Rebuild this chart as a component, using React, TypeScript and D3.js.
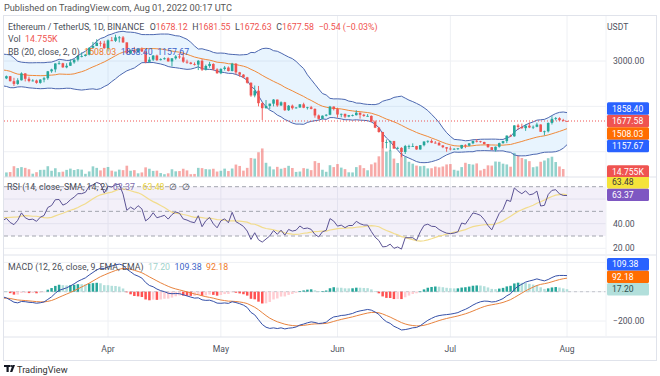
import React from "react";
import * as d3 from "d3";

// ---- data -------------------------------------------------------------
// daily closes before the visible window (Dec 1 2021 – Feb 28 2022), used only to seed the indicators
const historyCloses = [
  4630, 4590, 4210, 4120, 4190, 4360, 4310, 4430, 4110, 3900, 4080, 3780, 3780, 3860, 4020, 3960, 3890, 3960, 3930, 3940, 4020, 3980, 4100, 4050, 4090, 4060, 4040, 3800, 3630, 3710, 3680,
  3769, 3829, 3761, 3794, 3550, 3417, 3196, 3083, 3157, 3083, 3239, 3373, 3243, 3307, 3328, 3350, 3212, 3164, 3096, 3002, 2562, 2406, 2539, 2440, 2459, 2466, 2424, 2547, 2599, 2605, 2687,
  2789, 2682, 2662, 2990, 3022, 3060, 3142, 3124, 3240, 3078, 2928, 2914, 2884, 2930, 3182, 3125, 2891, 2781, 2764, 2628, 2570, 2641, 2589, 2600, 2775, 2781, 2621, 2921,
];

const firstDay = "2022-03-01";

const closes = [
  2972, 2950, 2834, 2617, 2665, 2555, 2495, 2575, 2727, 2608, 2560, 2570, 2518, 2590, 2620, 2773, 2815, 2945, 2950, 2860, 2895, 2970, 3030, 3110, 3110, 3140, 3290, 3330, 3400, 3385, 3282,
  3455, 3445, 3520, 3520, 3410, 3170, 3230, 3190, 3260, 3210, 2980, 3030, 3120, 3020, 3040, 3060, 2990, 3060, 3100, 3080, 2985, 2965, 2935, 2920, 3005, 2810, 2890, 2935, 2815, 2730,
  2825, 2855, 2780, 2940, 2750, 2700, 2640, 2520, 2240, 2345, 2070, 1960, 2010, 2060, 2150, 2020, 2090, 1915, 2015, 1960, 1975, 2045, 1970, 1980, 1945, 1800, 1725, 1795, 1815, 1995, 1940,
  1820, 1835, 1775, 1805, 1805, 1860, 1815, 1790, 1790, 1665, 1530, 1435, 1205, 1210, 1235, 1070, 1085, 995, 1125, 1125, 1125, 1050, 1145, 1225, 1240, 1200, 1195, 1140, 1100, 1070,
  1060, 1065, 1075, 1150, 1135, 1185, 1240, 1230, 1215, 1170, 1100, 1040, 1110, 1190, 1235, 1355, 1340, 1580, 1545, 1520, 1575, 1535, 1550, 1600, 1440, 1450, 1635, 1725, 1740, 1695, 1678.12,
  1677.58,
];

const highs = [
  3000, 3040, 2970, 2850, 2680, 2670, 2630, 2620, 2750, 2730, 2655, 2600, 2590, 2600, 2650, 2780, 2830, 2950, 3000, 2960, 2950, 3040, 3040, 3130, 3190, 3150, 3300, 3420, 3480, 3440, 3445,
  3475, 3530, 3580, 3550, 3550, 3410, 3250, 3310, 3270, 3300, 3215, 3090, 3130, 3140, 3060, 3080, 3080, 3060, 3130, 3170, 3190, 3030, 2980, 2970, 3020, 3040, 2920, 2980, 2950, 2840,
  2840, 2890, 2880, 2960, 2955, 2760, 2710, 2650, 2530, 2460, 2450, 2090, 2140, 2060, 2160, 2150, 2110, 2100, 2030, 2040, 1985, 2050, 2080, 1990, 2010, 1955, 1820, 1800, 1830, 2010, 2000,
  1970, 1840, 1840, 1810, 1820, 1915, 1865, 1835, 1830, 1800, 1690, 1545, 1440, 1270, 1245, 1240, 1110, 1100, 1150, 1155, 1185, 1130, 1145, 1230, 1250, 1275, 1235, 1220, 1145, 1100,
  1120, 1080, 1080, 1150, 1165, 1190, 1240, 1280, 1240, 1220, 1170, 1105, 1115, 1200, 1240, 1360, 1380, 1585, 1615, 1620, 1600, 1645, 1580, 1640, 1605, 1465, 1645, 1785, 1765, 1760, 1725,
  1681.55,
];

const lows = [
  2860, 2920, 2800, 2590, 2600, 2550, 2450, 2475, 2570, 2550, 2530, 2550, 2500, 2500, 2530, 2585, 2740, 2750, 2920, 2850, 2840, 2890, 2940, 2990, 3080, 3100, 3125, 3280, 3330, 3320, 3270,
  3210, 3440, 3420, 3410, 3400, 3160, 3150, 3170, 3180, 3200, 2950, 2960, 3000, 3000, 3010, 3030, 2990, 2880, 3030, 3050, 2960, 2940, 2925, 2900, 2800, 2780, 2790, 2850, 2790, 2720,
  2710, 2790, 2770, 2770, 2700, 2650, 2620, 2500, 2210, 2200, 2000, 1700, 1950, 1940, 2000, 1990, 2010, 1900, 1900, 1930, 1950, 1970, 1960, 1930, 1935, 1750, 1710, 1715, 1780, 1805, 1910,
  1750, 1760, 1740, 1760, 1780, 1800, 1730, 1770, 1775, 1650, 1520, 1420, 1075, 1075, 1015, 1065, 1060, 880, 950, 1060, 1105, 1045, 1045, 1120, 1190, 1190, 1180, 1140, 1080, 1000,
  1030, 1040, 1040, 1060, 1080, 1120, 1165, 1205, 1200, 1160, 1090, 1035, 1005, 1090, 1175, 1190, 1330, 1330, 1485, 1505, 1460, 1520, 1500, 1540, 1440, 1360, 1425, 1600, 1690, 1680, 1670,
  1672.63,
];

// volume in thousands of ETH
const volumes = [
  800, 720, 620, 880, 360, 390, 850, 700, 780, 720, 610, 260, 380, 560, 570, 850, 490, 690, 380, 420, 560, 660, 550, 620, 580, 250, 440, 840, 720, 520, 720,
  790, 500, 430, 580, 540, 890, 490, 540, 290, 360, 760, 650, 480, 500, 310, 220, 290, 610, 450, 470, 650, 520, 220, 240, 720, 700, 620, 600, 650, 430,
  490, 660, 470, 670, 980, 870, 500, 720, 1500, 1450, 1950, 2250, 1120, 830, 600, 800, 650, 720, 880, 710, 400, 430, 700, 650, 540, 1250, 1110, 570, 410, 930, 780,
  1020, 740, 620, 370, 360, 780, 930, 700, 530, 1000, 1140, 1630, 2680, 2000, 2100, 1450, 1100, 1900, 1600, 1200, 1050, 900, 850, 880, 680, 690, 820, 760, 830, 990,
  1020, 570, 500, 780, 1120, 1020, 980, 1070, 520, 640, 920, 900, 1220, 1200, 1050, 990, 810, 1900, 1700, 1500, 1400, 1250, 770, 830, 1200, 1300, 1480, 1600, 1180, 830, 630,
  14.755,
];

// last indicator values as printed in the legends of the reference
const bbLast = [1508.03, 1858.4, 1157.67]; // basis, upper, lower
const rsiLast = [63.37, 63.48]; // rsi, rsi-based MA
const macdLast = [17.2, 109.38, 92.18]; // histogram, macd, signal

const monthTicks = ["2022-04-01", "2022-05-01", "2022-06-01", "2022-07-01", "2022-08-01"];
const monthLabels = ["Apr", "May", "Jun", "Jul", "Aug"];
const priceTicks = [1000, 2000, 3000];
const rsiTicks = [20, 40, 60];
const macdTicks = [-200, 0, 200];
const rsiBands = [70, 50, 30];

// ---- indicator helpers ------------------------------------------------
type N = number | null;
function smaArr(a: number[], n: number): N[] {
  return a.map((_, i) => (i < n - 1 ? null : d3.mean(a.slice(i - n + 1, i + 1))!));
}
function stdArr(a: number[], n: number): N[] {
  return a.map((_, i) => {
    if (i < n - 1) return null;
    const s = a.slice(i - n + 1, i + 1);
    const m = d3.mean(s)!;
    return Math.sqrt(d3.mean(s.map((v) => (v - m) ** 2))!);
  });
}
function emaArr(a: number[], n: number): number[] {
  const k = 2 / (n + 1);
  const out: number[] = [];
  a.forEach((v, i) => out.push(i === 0 ? v : v * k + out[i - 1] * (1 - k)));
  return out;
}
function rmaArr(a: number[], n: number): number[] {
  const out: number[] = [];
  a.forEach((v, i) => out.push(i === 0 ? v : (out[i - 1] * (n - 1) + v) / n));
  return out;
}

export default function App() {
  const all = [...historyCloses, ...closes];
  const off = historyCloses.length;
  const start = new Date(firstDay + "T00:00:00Z").getTime();
  const dates = closes.map((_, i) => new Date(start + i * 86400000));
  const opens = closes.map((_, i) => (i === 0 ? historyCloses[historyCloses.length - 1] : closes[i - 1]));

  // Bollinger
  const basisAll = smaArr(all, 20);
  const sdAll = stdArr(all, 20);
  const basis = basisAll.slice(off);
  const upper = basisAll.map((b, i) => (b == null ? null : b + 2 * (sdAll[i] as number))).slice(off);
  const lower = basisAll.map((b, i) => (b == null ? null : b - 2 * (sdAll[i] as number))).slice(off);

  // RSI
  const gains = all.map((v, i) => (i === 0 ? 0 : Math.max(v - all[i - 1], 0)));
  const losses = all.map((v, i) => (i === 0 ? 0 : Math.max(all[i - 1] - v, 0)));
  const ag = rmaArr(gains, 14);
  const al = rmaArr(losses, 14);
  const rsiAll = ag.map((g, i) => (al[i] === 0 ? 100 : 100 - 100 / (1 + g / al[i])));
  const rsiMaAll = smaArr(rsiAll, 14);
  const rsi = rsiAll.slice(off);
  const rsiMa = rsiMaAll.slice(off);

  // MACD
  const e12 = emaArr(all, 12);
  const e26 = emaArr(all, 26);
  const macdAll = e12.map((v, i) => v - e26[i]);
  const sigAll = emaArr(macdAll, 9);
  const histAll = macdAll.map((v, i) => v - sigAll[i]);
  const macd = macdAll.slice(off);
  const sig = sigAll.slice(off);
  const hist = histAll.slice(off);

  // ---- layout / scales ----
  const L = 4, R = 606, AX = 656;
  const pTop = 16, pBot = 177, rTop = 177, rBot = 255, mTop = 255, mBot = 337, tBot = 360;

  const x = d3
    .scaleUtc()
    .domain([new Date("2022-04-01T00:00:00Z"), new Date("2022-08-01T00:00:00Z")])
    .range([108, 567]);
  const yP = d3.scaleLinear().domain([1677.58, 3000]).range([121, 61]);
  const yV = d3.scaleLinear().domain([0, 2680]).range([pBot, 143]);
  const yR = d3.scaleLinear().domain([30, 70]).range([236, 186.7]);
  const yM = d3.scaleLinear().domain([-200, 0]).range([321, 291.7]);

  const green = "#26a69a";
  const red = "#ef5350";
  const bandBlue = "#4d68b0";
  const basisOrange = "#f08a3a";
  const gridC = "#eef0f4";
  const borderC = "#e0e3eb";
  const textC = "#4a4e58";
  const font = "Roboto, 'Liberation Sans', sans-serif";

  const idx = d3.range(closes.length);
  const lineOf = (arr: N[], y: (v: number) => number) =>
    d3
      .line<number>()
      .defined((i) => arr[i] != null)
      .x((i) => x(dates[i]))
      .y((i) => y(arr[i] as number))(idx) || "";

  const bbArea =
    d3
      .area<number>()
      .defined((i) => upper[i] != null)
      .x((i) => x(dates[i]))
      .y0((i) => yP(lower[i] as number))
      .y1((i) => yP(upper[i] as number))(idx) || "";

  const bw = 2.6;

  const histColor = (i: number) => {
    const h = hist[i];
    const prev = i > 0 ? hist[i - 1] : histAll[off - 1];
    if (h >= 0) return prev < h ? "#26a69a" : "#b2dfdb";
    return prev < h ? "#ffcdd2" : "#ff5252";
  };

  // axis label boxes with simple stacking around an anchor label
  type Box = { y: number; bg: string; fg: string; text: string };
  const stack = (anchor: Box, above: Box[], below: Box[], h: number) => {
    const out: Box[] = [anchor];
    let lim = anchor.y;
    above
      .sort((a, b) => b.y - a.y)
      .forEach((b) => {
        const y = Math.min(b.y, lim - h);
        out.push({ ...b, y });
        lim = y;
      });
    lim = anchor.y;
    below
      .sort((a, b) => a.y - b.y)
      .forEach((b) => {
        const y = Math.max(b.y, lim + h);
        out.push({ ...b, y });
        lim = y;
      });
    return out;
  };
  const n = closes.length - 1;
  const fmt = d3.format(".2f");
  const boxH = 12.5;
  const priceBoxes = stack(
    { y: yP(closes[n]), bg: red, fg: "#fff", text: fmt(closes[n]) },
    [{ y: yP(bbLast[1]), bg: "#2962ff", fg: "#fff", text: fmt(bbLast[1]) }],
    [
      { y: yP(bbLast[0]), bg: "#ff6d00", fg: "#fff", text: fmt(bbLast[0]) },
      { y: yP(bbLast[2]), bg: "#2962ff", fg: "#fff", text: fmt(bbLast[2]) },
    ],
    boxH
  );
  const rsiBoxes = stack(
    { y: yR(rsiLast[0]), bg: "#7e57c2", fg: "#fff", text: fmt(rsiLast[0]) },
    [{ y: yR(rsiLast[1]), bg: "#f5e33a", fg: "#3a3a3a", text: fmt(rsiLast[1]) }],
    [],
    boxH
  );
  const macdBoxes = stack(
    { y: yM(macdLast[0]), bg: "#b2dfdb", fg: "#2f4f4c", text: fmt(macdLast[0]) },
    [
      { y: yM(macdLast[2]), bg: "#ff6d00", fg: "#fff", text: fmt(macdLast[2]) },
      { y: yM(macdLast[1]), bg: "#2962ff", fg: "#fff", text: fmt(macdLast[1]) },
    ],
    [],
    boxH
  );
  // volume value box: sits at the bottom edge of the price pane, lifted so it stays inside it
  const volBox: Box = { y: Math.min(yV(volumes[n]), pBot - 5.5), bg: red, fg: "#fff", text: volumes[n] + "K" };

  const drawBoxes = (boxes: Box[]) =>
    boxes.map((b, i) => (
      <g key={i}>
        <rect x={607} y={b.y - boxH / 2} width={42} height={boxH} rx={1.5} fill={b.bg} />
        <text x={612} y={b.y} dominantBaseline="central" fontSize={8.6} fill={b.fg}>
          {b.text}
        </text>
      </g>
    ));

  // axis tick labels are hidden where a value box covers them
  const axisLabels = (ticks: number[], y: (v: number) => number, boxes: Box[], k: string) =>
    ticks
      .filter((v) => boxes.every((b) => Math.abs(b.y - y(v)) > boxH - 1))
      .map((v) => (
        <text key={k + v} x={613} y={y(v)} dominantBaseline="central" fontSize={8.6} fill="#50535e">
          {fmt(v)}
        </text>
      ));

  const gap = 4.5;

  return (
    <svg
      width={660}
      height={376}
      style={{ position: "fixed", left: 0, top: 0, background: "#fff" }}
      fontFamily={font}
    >
      <defs>
        <clipPath id="cp">
          <rect x={L} y={pTop} width={R - L} height={pBot - pTop} />
        </clipPath>
        <clipPath id="cr">
          <rect x={L} y={rTop} width={R - L} height={rBot - rTop} />
        </clipPath>
        <clipPath id="cm">
          <rect x={L} y={mTop} width={R - L} height={mBot - mTop} />
        </clipPath>
        <clipPath id="ap">
          <rect x={R} y={pTop} width={AX - R} height={pBot - pTop} />
        </clipPath>
        <clipPath id="ar">
          <rect x={R} y={rTop} width={AX - R} height={rBot - rTop} />
        </clipPath>
        <clipPath id="am">
          <rect x={R} y={mTop} width={AX - R} height={mBot - mTop} />
        </clipPath>
      </defs>

      <rect width={660} height={376} fill="#fff" />

      {/* published line */}
      <text x={4} y={7} dominantBaseline="central" fontSize={9.2} fill="#555">
        Published on TradingView.com, Aug 01, 2022 00:17 UTC
      </text>

      {/* grid */}
      {monthTicks.map((m) => (
        <line key={m} x1={x(new Date(m + "T00:00:00Z"))} x2={x(new Date(m + "T00:00:00Z"))} y1={pTop} y2={mBot} stroke={gridC} />
      ))}
      <g clipPath="url(#cp)">
        {priceTicks.map((p) => (
          <line key={p} x1={L} x2={R} y1={yP(p)} y2={yP(p)} stroke={gridC} />
        ))}
      </g>
      {rsiTicks.map((v) => (
        <line key={v} x1={L} x2={R} y1={yR(v)} y2={yR(v)} stroke={gridC} />
      ))}
      {macdTicks.map((v) => (
        <line key={v} x1={L} x2={R} y1={yM(v)} y2={yM(v)} stroke={gridC} />
      ))}

      {/* price pane */}
      <g clipPath="url(#cp)">
        {idx.map((i) => (
          <rect
            key={"v" + i}
            x={x(dates[i]) - bw / 2}
            y={yV(volumes[i])}
            width={bw}
            height={pBot - yV(volumes[i])}
            fill={closes[i] >= opens[i] ? "rgba(38,166,154,0.5)" : "rgba(239,83,80,0.5)"}
          />
        ))}
        <path d={bbArea} fill="#2196f3" fillOpacity={0.1} />
        <path d={lineOf(upper, yP)} fill="none" stroke={bandBlue} strokeWidth={1} />
        <path d={lineOf(lower, yP)} fill="none" stroke={bandBlue} strokeWidth={1} />
        <path d={lineOf(basis, yP)} fill="none" stroke={basisOrange} strokeWidth={1} />
        {idx.map((i) => {
          const cx = x(dates[i]);
          const up = closes[i] >= opens[i];
          const c = up ? green : red;
          const yo = yP(opens[i]);
          const yc = yP(closes[i]);
          return (
            <g key={"c" + i}>
              <line x1={cx} x2={cx} y1={yP(highs[i])} y2={yP(lows[i])} stroke={c} strokeWidth={0.9} />
              <rect x={cx - bw / 2} y={Math.min(yo, yc)} width={bw} height={Math.max(Math.abs(yo - yc), 0.8)} fill={c} />
            </g>
          );
        })}
        <line x1={L} x2={R} y1={yP(closes[n])} y2={yP(closes[n])} stroke={red} strokeWidth={1} strokeDasharray="1,2" />
      </g>

      {/* RSI pane */}
      <rect x={L} y={yR(70)} width={R - L} height={yR(30) - yR(70)} fill="#7e57c2" fillOpacity={0.09} />
      {rsiBands.map((v) => (
        <line key={v} x1={L} x2={R} y1={yR(v)} y2={yR(v)} stroke="#a3a6af" strokeDasharray="4,3" strokeWidth={1} />
      ))}
      <g clipPath="url(#cr)">
        <path d={lineOf(rsiMa, yR)} fill="none" stroke="#f2dc8c" strokeWidth={1.2} />
        <path d={lineOf(rsi, yR)} fill="none" stroke="#5b5394" strokeWidth={1} />
      </g>

      {/* MACD pane */}
      <line x1={L} x2={R} y1={yM(0)} y2={yM(0)} stroke="#c3c5cc" strokeDasharray="3,3" />
      <g clipPath="url(#cm)">
        {idx.map((i) => {
          const y0 = yM(0);
          const y1 = yM(hist[i]);
          return (
            <rect
              key={"h" + i}
              x={x(dates[i]) - 1.25}
              y={Math.min(y0, y1)}
              width={2.5}
              height={Math.max(Math.abs(y1 - y0), 0.6)}
              fill={histColor(i)}
            />
          );
        })}
        <path d={lineOf(sig, yM)} fill="none" stroke="#e8833e" strokeWidth={1} />
        <path d={lineOf(macd, yM)} fill="none" stroke="#3550a8" strokeWidth={1} />
      </g>

      {/* separators and frame */}
      <line x1={L} x2={AX} y1={pBot} y2={pBot} stroke={borderC} />
      <line x1={L} x2={AX} y1={rBot} y2={rBot} stroke={borderC} />
      <line x1={L} x2={AX} y1={mBot} y2={mBot} stroke={borderC} />
      <line x1={R} x2={R} y1={pTop} y2={mBot} stroke="#f0f2f6" />
      <rect x={L - 0.5} y={pTop - 0.5} width={AX - L + 1} height={tBot - pTop + 1} fill="none" stroke={borderC} />

      {/* legends */}
      <g fontSize={8.8} fill={textC}>
        <text x={8} y={27} dominantBaseline="central">
          Ethereum / TetherUS, 1D, BINANCE
          <tspan dx={gap + 1}>O</tspan>
          <tspan fill={red}>{fmt(opens[n])}</tspan>
          <tspan dx={gap}>H</tspan>
          <tspan fill={red}>{fmt(highs[n])}</tspan>
          <tspan dx={gap}>L</tspan>
          <tspan fill={red}>{fmt(lows[n])}</tspan>
          <tspan dx={gap}>C</tspan>
          <tspan fill={red}>{fmt(closes[n])}</tspan>
          <tspan dx={gap} fill={red}>
            {fmt(closes[n] - opens[n]) + " (" + fmt(((closes[n] - opens[n]) / opens[n]) * 100) + "%)"}
          </tspan>
        </text>
        <text x={8} y={39} dominantBaseline="central">
          Vol
          <tspan dx={gap} fill={red}>
            {volumes[n] + "K"}
          </tspan>
        </text>
        <text x={8} y={52} dominantBaseline="central">
          BB (20, close, 2, 0)
          <tspan dx={gap} fill="#f07a2a">
            {fmt(bbLast[0])}
          </tspan>
          <tspan dx={gap} fill="#3a62c8">
            {fmt(bbLast[1])}
          </tspan>
          <tspan dx={gap} fill="#3a62c8">
            {fmt(bbLast[2])}
          </tspan>
        </text>

        <text x={7} y={187} dominantBaseline="central">
          RSI (14, close, SMA, 14, 2)
          <tspan dx={gap} fill="#7e6bb0">
            {fmt(rsiLast[0])}
          </tspan>
          <tspan dx={gap + 3} fill="#e6cf3a">
            {fmt(rsiLast[1])}
          </tspan>
          <tspan dx={gap}>∅</tspan>
          <tspan dx={gap}>∅</tspan>
        </text>

        <text x={8} y={267} dominantBaseline="central">
          MACD (12, 26, close, 9, EMA, EMA)
          <tspan dx={gap} fill="#9fd3cc">
            {fmt(macdLast[0])}
          </tspan>
          <tspan dx={gap} fill="#3a62c8">
            {fmt(macdLast[1])}
          </tspan>
          <tspan dx={gap} fill="#f07a2a">
            {fmt(macdLast[2])}
          </tspan>
        </text>
      </g>

      {/* price axis */}
      <text x={607} y={27} dominantBaseline="central" fontSize={8.6} fill="#50535e">
        USDT
      </text>
      <g clipPath="url(#ap)">
        {axisLabels(priceTicks, yP, [...priceBoxes, volBox], "p")}
        {drawBoxes([volBox])}
        {drawBoxes(priceBoxes)}
      </g>
      <g clipPath="url(#ar)">
        {axisLabels(rsiTicks, yR, rsiBoxes, "r")}
        {drawBoxes(rsiBoxes)}
      </g>
      <g clipPath="url(#am)">
        {axisLabels(macdTicks, yM, macdBoxes, "m")}
        {drawBoxes(macdBoxes)}
      </g>

      {/* time axis */}
      {monthTicks.map((m, i) => (
        <text key={m} x={x(new Date(m + "T00:00:00Z"))} y={348.5} textAnchor="middle" dominantBaseline="central" fontSize={8.6} fill="#50535e">
          {monthLabels[i]}
        </text>
      ))}

      {/* logo */}
      <g fill="#131722">
        <rect x={4} y={365} width={6} height={2} />
        <rect x={6.5} y={365} width={2.2} height={7} />
        <circle cx={11.2} cy={366} r={1.1} />
        <path d="M 10 372 L 12.5 365 L 15 365 L 12.3 372 Z" />
      </g>
      <text x={17} y={369} dominantBaseline="central" fontSize={9.2} fill="#333">
        TradingView
      </text>
    </svg>
  );
}
